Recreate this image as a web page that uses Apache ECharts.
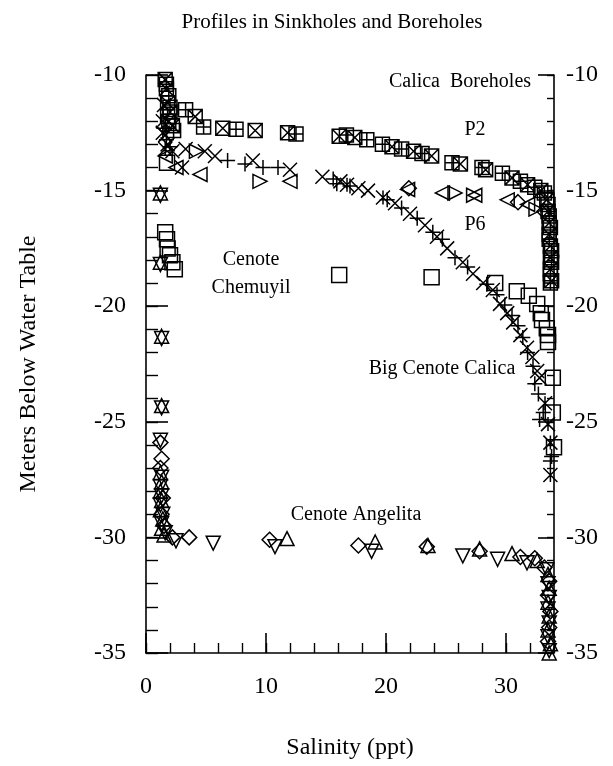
<!DOCTYPE html>
<html>
<head>
<meta charset="utf-8">
<script src="https://cdn.jsdelivr.net/npm/echarts@6/dist/echarts.min.js"></script>
<style>
html,body{margin:0;padding:0;background:#fff;}
#chart{width:613px;height:766px;}
</style>
</head>
<body>
<div id="chart"></div>
<script>
// ---- data (salinity ppt, depth m) ----
var xTickLabels = [0, 10, 20, 30];
var yTickLabels = [-10, -15, -20, -25, -30, -35];

var p2BoxX = [[1.6,-10.2],[1.7,-10.6],[1.8,-11.2],[2.0,-11.6],[1.9,-12.0],[2.2,-12.2],[4.1,-11.8],[6.4,-12.3],[9.1,-12.4],[11.8,-12.5],[16.1,-12.65],[17.4,-12.7],[20.5,-13.1],[22.3,-13.3],[23.8,-13.5],[26.2,-13.85],[28.3,-14.1],[30.5,-14.45],[31.8,-14.75],[32.9,-15.0],[33.4,-15.4],[33.5,-15.9],[33.6,-16.4],[33.6,-16.9],[33.7,-17.4],[33.7,-17.9],[33.7,-18.4],[33.8,-18.9]];
var p2BoxPlus = [[1.7,-10.4],[1.9,-10.9],[2.0,-11.4],[1.8,-11.8],[2.3,-12.4],[3.3,-11.5],[4.8,-12.25],[7.5,-12.35],[12.5,-12.55],[16.7,-12.6],[18.4,-12.8],[19.7,-13.0],[21.3,-13.2],[23.0,-13.4],[25.5,-13.8],[28.0,-14.0],[29.7,-14.25],[31.2,-14.6],[32.4,-14.85],[33.2,-15.1],[33.5,-15.6],[33.6,-16.1],[33.7,-16.6],[33.6,-17.1],[33.8,-17.6],[33.8,-18.1],[33.7,-18.6],[33.7,-19.0]];
var p6Cross = [[1.6,-9.9],[1.5,-11.3],[1.4,-12.0],[1.6,-12.6],[1.8,-13.0],[2.2,-13.3],[3.0,-14.0],[3.3,-13.2],[4.9,-13.3],[5.75,-13.5],[8.9,-13.7],[12.0,-14.1],[14.7,-14.4],[16.2,-14.6],[17.7,-14.9],[18.5,-15.0],[20.75,-15.55],[22.0,-16.0],[23.25,-16.5],[24.25,-17.0],[25.1,-17.5],[26.4,-18.1],[27.25,-18.6],[28.1,-19.0],[28.9,-19.3],[29.5,-19.9],[30.1,-20.3],[30.6,-20.7],[31.2,-21.25],[31.75,-21.8],[32.2,-22.2],[32.6,-22.8],[32.8,-23.1]];
var calicaPlus = [[1.5,-12.3],[1.7,-12.8],[2.0,-13.1],[6.8,-13.7],[8.25,-13.85],[9.75,-14.0],[11.0,-14.0],[15.6,-14.5],[15.9,-14.7],[17.0,-14.8],[20.1,-15.4],[21.3,-15.75],[22.6,-16.2],[23.9,-16.8],[24.7,-17.1],[25.75,-17.9],[26.8,-18.3],[28.4,-19.05],[29.25,-19.5],[29.9,-19.95],[30.5,-20.4],[31.0,-20.85],[31.4,-21.35],[31.8,-22.0],[32.25,-22.6],[32.4,-23.35],[32.7,-23.8],[33.1,-24.6],[32.8,-24.9],[33.8,-26.5],[33.7,-26.7]];
var calicaStar = [[1.4,-12.5],[1.6,-13.2],[16.75,-14.75],[19.75,-15.3],[33.25,-24.2],[33.5,-25.1],[33.7,-25.9],[33.7,-27.3]];
var boreLeftTri = [[1.6,-13.5],[2.5,-14.0],[4.5,-14.3],[12.0,-14.6],[21.8,-14.95],[24.7,-15.1],[27.4,-15.2],[30.1,-15.4],[31.8,-15.6]];
var boreRightTri = [[4.2,-13.3],[9.5,-14.6],[25.75,-15.1],[27.3,-15.2],[32.5,-15.8]];
var boreDiamond = [[21.9,-14.9],[31.0,-15.5],[33.2,-15.9]];
var chemuyilSquare = [[1.75,-13.8],[1.6,-16.8],[1.75,-17.1],[1.8,-17.5],[2.0,-17.8],[2.2,-18.1],[2.4,-18.4],[16.1,-18.65],[23.8,-18.75],[29.1,-19.0],[30.9,-19.35],[31.9,-19.55],[32.6,-19.9],[32.9,-20.3],[33.0,-20.6],[33.4,-20.95],[33.5,-21.25],[33.5,-21.55],[33.9,-23.1],[33.9,-24.6],[34.0,-26.1]];
var angelitaUp = [[1.2,-15.1],[1.2,-18.1],[1.3,-21.3],[1.3,-24.3],[1.2,-27.2],[1.3,-27.6],[1.2,-28.0],[1.3,-28.4],[1.2,-28.8],[1.4,-29.2],[1.3,-29.6],[1.5,-29.9],[11.75,-30.05],[19.1,-30.2],[23.5,-30.35],[27.8,-30.5],[30.5,-30.7],[32.6,-31.0],[33.5,-31.6],[33.6,-32.2],[33.5,-32.8],[33.6,-33.4],[33.5,-34.0],[33.7,-34.6],[33.6,-35.0]];
var angelitaDown = [[1.2,-15.2],[1.2,-18.2],[1.3,-21.4],[1.3,-24.4],[1.2,-25.8],[1.3,-27.4],[1.2,-27.8],[1.3,-28.2],[1.2,-28.6],[1.4,-29.0],[1.3,-29.4],[1.6,-29.8],[2.5,-30.15],[5.6,-30.25],[10.75,-30.4],[18.8,-30.6],[26.4,-30.8],[29.3,-30.95],[31.75,-31.1],[33.4,-31.4],[33.5,-32.0],[33.6,-32.6],[33.5,-33.1],[33.6,-33.7],[33.5,-34.3],[33.6,-34.9]];
var angelitaDiamond = [[1.2,-25.9],[1.3,-26.6],[1.2,-27.0],[1.4,-28.3],[1.3,-29.0],[1.5,-29.5],[2.2,-30.0],[3.6,-30.0],[10.3,-30.1],[17.7,-30.35],[23.4,-30.4],[27.8,-30.6],[31.2,-30.85],[32.4,-30.9],[33.2,-31.3],[33.6,-31.9],[33.5,-32.5],[33.7,-33.2],[33.6,-33.9],[33.5,-34.5]];

// ---- marker shapes ----
var SYM = {
  boxX: 'path://M0,0L10,0L10,10L0,10ZM0,0L10,10M10,0L0,10',
  boxPlus: 'path://M0,0L10,0L10,10L0,10ZM5,0L5,10M0,5L10,5',
  cross: 'path://M0,0L10,10M10,0L0,10',
  plus: 'path://M5,0L5,10M0,5L10,5',
  star: 'path://M0,0L10,10M10,0L0,10M5,0L5,10',
  left: 'path://M10,0L10,10L0,5Z',
  right: 'path://M0,0L0,10L10,5Z',
  diamond: 'path://M5,0L10,5L5,10L0,5Z',
  square: 'path://M0,0L10,0L10,10L0,10Z',
  up: 'path://M5,0L10,9L0,9Z',
  down: 'path://M0,0L10,0L5,9Z'
};

function sc(name, data, sym, size) {
  return {
    type: 'scatter', name: name, data: data, symbol: sym, symbolSize: size,
    xAxisIndex: 0, yAxisIndex: 0,
    itemStyle: {color: 'rgba(0,0,0,0)', borderColor: '#000', borderWidth: 1.5, opacity: 1},
    emphasis: {disabled: true}, silent: true
  };
}

var FONT = '"Liberation Serif", "DejaVu Serif", serif';
var chart = echarts.init(document.getElementById('chart'));

function label(txt, x, y, size) {
  return {type: 'text', silent: true,
    style: {text: txt, x: x, y: y, font: size + 'px ' + FONT, fill: '#000',
      align: 'center', verticalAlign: 'middle', textAlign: 'center', textVerticalAlign: 'middle'}};
}

chart.setOption({
  backgroundColor: '#fff',
  animation: false,
  grid: {left: 146, right: 59, top: 75, bottom: 113, containLabel: false},
  xAxis: [
    {type: 'value', min: 0, max: 34, interval: 10, position: 'bottom',
     name: 'Salinity (ppt)', nameLocation: 'middle', nameGap: 83,
     nameTextStyle: {fontFamily: FONT, fontSize: 24, color: '#000'},
     axisLine: {show: true, lineStyle: {color: '#000', width: 1.6}},
     axisTick: {show: true, inside: true, length: 20, lineStyle: {color: '#000', width: 1.6}},
     axisLabel: {fontFamily: FONT, fontSize: 24, color: '#000', margin: 22, showMaxLabel: false,
       formatter: function (v) { return xTickLabels.indexOf(v) >= 0 ? String(v) : ''; }},
     splitLine: {show: false}},
    {type: 'value', min: 0, max: 34, interval: 2, position: 'bottom',
     axisLine: {show: false},
     axisTick: {show: true, inside: true, length: 10, lineStyle: {color: '#000', width: 1.4}},
     axisLabel: {show: false}, splitLine: {show: false}}
  ],
  yAxis: [
    {type: 'value', min: -35, max: -10, interval: 5, position: 'left',
     name: 'Meters Below Water Table', nameLocation: 'middle', nameGap: 105, nameRotate: 90,
     nameTextStyle: {fontFamily: FONT, fontSize: 24, color: '#000'},
     axisLine: {show: true, lineStyle: {color: '#000', width: 1.6}},
     axisTick: {show: true, inside: true, length: 22, lineStyle: {color: '#000', width: 1.6}},
     axisLabel: {fontFamily: FONT, fontSize: 24, color: '#000', margin: 20,
       formatter: function (v) { return yTickLabels.indexOf(v) >= 0 ? String(v) : ''; }},
     splitLine: {show: false}},
    {type: 'value', min: -35, max: -10, interval: 1, position: 'left',
     axisLine: {show: false},
     axisTick: {show: true, inside: true, length: 12, lineStyle: {color: '#000', width: 1.4}},
     axisLabel: {show: false}, splitLine: {show: false}},
    {type: 'value', min: -35, max: -10, interval: 5, position: 'right',
     axisLine: {show: true, lineStyle: {color: '#000', width: 1.6}},
     axisTick: {show: true, inside: true, length: 16, lineStyle: {color: '#000', width: 1.6}},
     axisLabel: {fontFamily: FONT, fontSize: 24, color: '#000', margin: 12,
       formatter: function (v) { return yTickLabels.indexOf(v) >= 0 ? String(v) : ''; }},
     splitLine: {show: false}},
    {type: 'value', min: -35, max: -10, interval: 1, position: 'right',
     axisLine: {show: false},
     axisTick: {show: true, inside: true, length: 7, lineStyle: {color: '#000', width: 1.4}},
     axisLabel: {show: false}, splitLine: {show: false}}
  ],
  series: [
    sc('P2 a', p2BoxX, SYM.boxX, 14),
    sc('P2 b', p2BoxPlus, SYM.boxPlus, 14),
    sc('P6', p6Cross, SYM.cross, 14),
    sc('Big Cenote Calica +', calicaPlus, SYM.plus, 15),
    sc('Big Cenote Calica *', calicaStar, SYM.star, 14),
    sc('Borehole left', boreLeftTri, SYM.left, 14),
    sc('Borehole right', boreRightTri, SYM.right, 14),
    sc('Borehole diamond', boreDiamond, SYM.diamond, 15),
    sc('Cenote Chemuyil', chemuyilSquare, SYM.square, 15),
    sc('Cenote Angelita up', angelitaUp, SYM.up, 14),
    sc('Cenote Angelita down', angelitaDown, SYM.down, 14),
    sc('Cenote Angelita diamond', angelitaDiamond, SYM.diamond, 15)
  ],
  graphic: [
    label('Profiles in Sinkholes and Boreholes', 332, 22, 21),
    label('Calica  Boreholes', 460, 82, 20),
    label('P2', 475, 130, 20),
    label('P6', 475, 225, 20),
    label('Cenote', 251, 260, 20),
    label('Chemuyil', 251, 288, 20),
    label('Big Cenote Calica', 442, 369, 20),
    label('Cenote Angelita', 356, 515, 20)
  ]
});
</script>
</body>
</html>
